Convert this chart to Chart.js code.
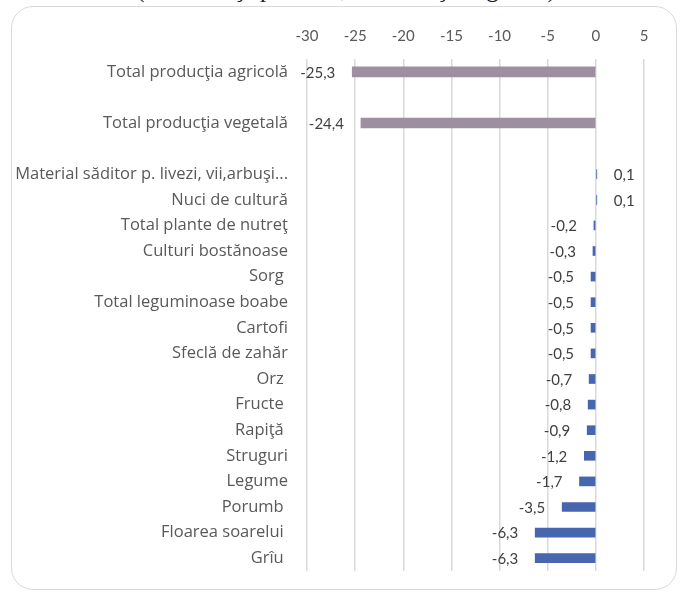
<!DOCTYPE html>
<html>
<head>
<meta charset="utf-8">
<script src="https://cdn.jsdelivr.net/npm/chart.js@4.4.0/dist/chart.umd.min.js"></script>
<style>
  html, body { margin: 0; padding: 0; background: #fff; overflow: hidden; }
  #wrap { position: relative; width: 684px; height: 594px; }
  #frame {
    position: absolute; left: 11px; top: 6px; width: 664px; height: 582px;
    border: 1.5px solid #d9d9d9; border-radius: 22px;
  }
  #title {
    position: absolute; left: 0; top: -25px; width: 692px; text-align: center;
    font-family: "Liberation Serif", serif; font-size: 25px; color: #222;
    white-space: nowrap;
  }
  canvas { position: absolute; left: 0; top: 0; }
</style>
</head>
<body>
<div id="wrap">
  <div id="frame"></div>
  <div id="title">(+ influenţa pozitivă, - influenţa negativă)</div>
  <canvas id="chart" width="684" height="594"></canvas>
</div>
<script>
// categories top to bottom, two empty rows as spacers
const categories = [
  "Total producţia agricolă",
  " ",
  "Total producţia vegetală",
  "  ",
  "Material săditor p. livezi, vii,arbuşi...",
  "Nuci de cultură",
  "Total plante de nutreţ",
  "Culturi bostănoase",
  "Sorg ",
  "Total leguminoase boabe",
  "Cartofi",
  "Sfeclă de zahăr",
  "Orz ",
  "Fructe ",
  "Rapiţă ",
  "Struguri",
  "Legume",
  "Porumb ",
  "Floarea soarelui ",
  "Grîu "
];

const totalValues = [-25.3, null, -24.4, null, null, null, null, null, null, null,
  null, null, null, null, null, null, null, null, null, null];

const cropValues = [null, null, null, null, 0.1, 0.1, -0.2, -0.3, -0.5, -0.5,
  -0.5, -0.5, -0.7, -0.8, -0.9, -1.2, -1.7, -3.5, -6.3, -6.3];

const xMin = -30, xMax = 5, xStep = 5;

const numFont = "Lato, 'Open Sans', sans-serif";
const labelFont = "'Open Sans', Lato, sans-serif";

// value labels outside the bar ends
const valueLabels = {
  id: "valueLabels",
  afterDatasetsDraw(chart) {
    const ctx = chart.ctx;
    ctx.save();
    ctx.font = "15px " + numFont;
    ctx.fillStyle = "#404040";
    ctx.textBaseline = "middle";
    chart.data.datasets.forEach((ds, i) => {
      const meta = chart.getDatasetMeta(i);
      meta.data.forEach((bar, j) => {
        const v = ds.data[j];
        if (v === null || v === undefined) return;
        const txt = v.toFixed(1).replace(".", ",");
        if (v < 0) {
          ctx.textAlign = "right";
          ctx.fillText(txt, bar.x - 17, bar.y + 1);
        } else {
          ctx.textAlign = "left";
          ctx.fillText(txt, bar.x + 17, bar.y + 1);
        }
      });
    });
    ctx.restore();
  }
};

new Chart(document.getElementById("chart"), {
  type: "bar",
  data: {
    labels: categories,
    datasets: [
      {
        label: "Total",
        data: totalValues,
        backgroundColor: "#9d8fa0",
        barThickness: 10,
        grouped: false
      },
      {
        label: "Culturi",
        data: cropValues,
        backgroundColor: "#4766ae",
        barThickness: 9,
        grouped: false
      }
    ]
  },
  options: {
    indexAxis: "y",
    responsive: false,
    animation: false,
    devicePixelRatio: 1,
    layout: { padding: { top: 0, right: 40, bottom: 23, left: 0 } },
    plugins: {
      legend: { display: false },
      tooltip: { enabled: false }
    },
    scales: {
      x: {
        position: "top",
        min: xMin,
        max: xMax,
        ticks: {
          stepSize: xStep,
          color: "#595959",
          font: { family: numFont, size: 15 },
          padding: 14
        },
        grid: { color: "#d9d9d9", lineWidth: 1.5, drawTicks: false },
        border: { display: false },
        afterFit(scale) { scale.height = 59; }
      },
      y: {
        ticks: {
          color: "#595959",
          font: { family: labelFont, size: 16.5 },
          padding: 19,
          autoSkip: false
        },
        grid: { display: false, drawTicks: false },
        border: { display: false },
        afterFit(scale) {
          scale.width = 307;
          scale.paddingTop = 0;
          scale.paddingBottom = 0;
        }
      }
    }
  },
  plugins: [valueLabels]
});
</script>
</body>
</html>
